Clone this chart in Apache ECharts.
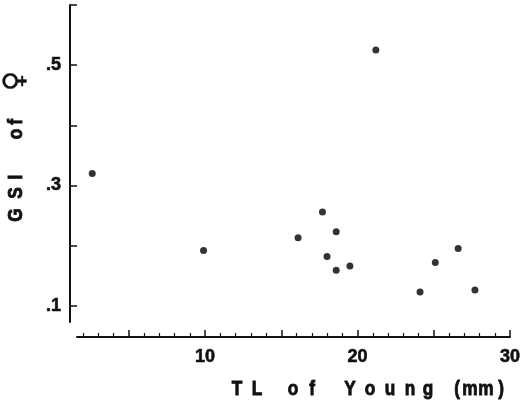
<!DOCTYPE html>
<html>
<head>
<meta charset="utf-8">
<script src="https://cdn.jsdelivr.net/npm/echarts@6/dist/echarts.min.js"></script>
<style>
  html, body { margin: 0; padding: 0; background: #fff; }
  #chart { width: 525px; height: 403px; }
</style>
</head>
<body>
<div id="chart"></div>
<script>
// TL of young (mm) vs GSI of female
const tlYoung = [2.6, 9.9, 16.1, 17.7, 18.0, 18.6, 18.6, 19.5, 21.2, 24.1, 25.1, 26.6, 27.7]
const gsiFemale = [0.32, 0.192, 0.213, 0.256, 0.182, 0.223, 0.159, 0.166, 0.525, 0.123, 0.172, 0.195, 0.126]

const xMajorTicks = [5, 10, 15, 20, 25, 30]
const xMinorTicks = [2, 3, 4, 6, 7, 8, 9, 11, 12, 13, 14, 16, 17, 18, 19, 21, 22, 23, 24, 26, 27, 28, 29]
const xLabels = [10, 20, 30]
const yTicks = [0.1, 0.2, 0.3, 0.4, 0.5, 0.6]
const yLabels = [0.1, 0.3, 0.5]

const FONT = "'Liberation Sans', Arial, sans-serif"
const INK = '#111'

const points = tlYoung.map((x, i) => [x, gsiFemale[i]])

// axis titles are letter-spaced, so each glyph is placed on its own
function spaced(chars, offsets, size) {
  return chars.map((c, i) => {
    const female = c === '♀'
    return {
      type: 'text',
      x: offsets[i],
      y: 0,
      scaleX: female ? 1 : 0.82,
      style: {
        text: c,
        fontSize: female ? 28 : size,
        fontWeight: female ? 'normal' : 'bold',
        fontFamily: female ? "'DejaVu Sans', sans-serif" : FONT,
        fill: INK,
        stroke: INK,
        lineWidth: female ? 0.4 : 0.9,
        align: 'center',
        verticalAlign: 'middle'
      }
    }
  })
}

const labelStyle = {
  color: INK,
  fontSize: 18,
  fontWeight: 'bold',
  fontFamily: FONT,
  textBorderColor: INK,
  textBorderWidth: 0.6
}

const chart = echarts.init(document.getElementById('chart'))
chart.setOption({
  backgroundColor: '#fff',
  animation: false,
  grid: { left: 77, right: 15, top: 5, bottom: 81 },
  xAxis: [
    {
      type: 'value',
      min: 1.6,
      max: 30,
      position: 'bottom',
      offset: 15,
      axisLine: { lineStyle: { color: INK, width: 2 } },
      axisTick: { inside: true, length: 7, customValues: xMajorTicks, lineStyle: { color: INK, width: 1.5 } },
      axisLabel: Object.assign({ customValues: xLabels, margin: 11 }, labelStyle),
      splitLine: { show: false }
    },
    {
      type: 'value',
      min: 1.6,
      max: 30,
      position: 'bottom',
      offset: 15,
      axisLine: { show: false },
      axisTick: { inside: true, length: 4, customValues: xMinorTicks, lineStyle: { color: INK, width: 1.2 } },
      axisLabel: { show: false },
      splitLine: { show: false }
    }
  ],
  yAxis: {
    type: 'value',
    min: 0.073,
    max: 0.6,
    offset: 7,
    axisLine: { show: true, lineStyle: { color: INK, width: 2 } },
    axisTick: { show: true, inside: true, length: 7, customValues: yTicks, lineStyle: { color: INK, width: 1.5 } },
    axisLabel: Object.assign({
      customValues: yLabels,
      margin: 9,
      formatter: v => '.' + Math.round(v * 10)
    }, labelStyle),
    splitLine: { show: false }
  },
  graphic: [
    {
      type: 'group',
      x: 0,
      y: 389,
      children: spaced(
        ['T', 'L', 'o', 'f', 'Y', 'o', 'u', 'n', 'g', '(', 'm', 'm', ')'],
        [237, 257, 293, 312, 350, 370, 390, 410, 428, 457, 470, 486, 501],
        21
      )
    },
    {
      type: 'group',
      x: 16,
      y: 215,
      rotation: Math.PI / 2,
      children: spaced(
        ['G', 'S', 'I', 'o', 'f', '♀'],
        [0, 22, 38, 81, 93, 134],
        21
      )
    }
  ],
  series: [
    {
      type: 'scatter',
      xAxisIndex: 0,
      data: points,
      symbol: 'circle',
      symbolSize: 7,
      itemStyle: { color: '#000' }
    }
  ]
})
</script>
</body>
</html>
